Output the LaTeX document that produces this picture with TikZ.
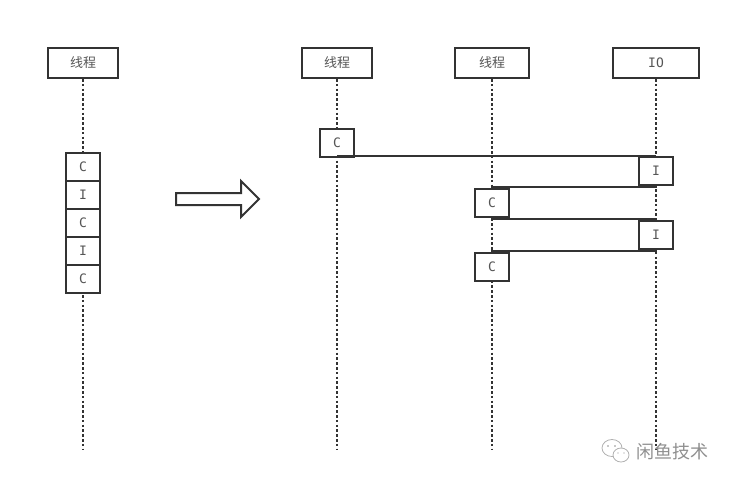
\documentclass[tikz,border=0pt]{standalone}
\usepackage{fontspec}
\setmainfont{Noto Sans CJK SC}
\newfontfamily\latinmono{DejaVu Sans Mono}
\usetikzlibrary{backgrounds}
\definecolor{ink}{HTML}{333333}
\definecolor{txt}{HTML}{555555}
\definecolor{wm}{HTML}{8F8F8F}
\tikzset{
  x=1pt,y=-1pt,
  box/.style={draw=ink,line width=2pt,fill=white,minimum height=28pt,inner sep=0pt,text=txt,font=\fontsize{13}{15}\selectfont},
  cell/.style={box,minimum width=34pt,font=\latinmono\fontsize{13}{15}\selectfont},
  life/.style={draw=ink,line width=2.5pt,dash pattern=on 2.5pt off 2.3pt},
  msg/.style={draw=ink,line width=2pt},
}
\begin{document}
\begin{tikzpicture}
\useasboundingbox (0,0) rectangle (731,485);
% headers
\node[box,minimum width=70pt,minimum height=30pt] (h1) at (83,63) {线程};
\node[box,minimum width=70pt,minimum height=30pt] (h2) at (337,63) {线程};
\node[box,minimum width=74pt,minimum height=30pt] (h3) at (492,63) {线程};
\node[box,minimum width=86pt,minimum height=30pt,font=\latinmono\fontsize{13}{15}\selectfont] (h4) at (656,63) {IO};
% left stack
\node[cell] (s1) at (83,167) {C};
\node[cell] (s2) at (83,195) {I};
\node[cell] (s3) at (83,223) {C};
\node[cell] (s4) at (83,251) {I};
\node[cell] (s5) at (83,279) {C};
% sequence
\node[cell] (c1) at (337,143) {C};
\node[cell] (i1) at (656,171) {I};
\node[cell] (c2) at (492,203) {C};
\node[cell] (i2) at (656,235) {I};
\node[cell] (c3) at (492,267) {C};
% lifeline ends
\coordinate (e1) at (83,450);
\coordinate (e2) at (337,450);
\coordinate (e3) at (492,450);
\coordinate (e4) at (656,450);
\coordinate (k1) at (337,156);
\coordinate (k2) at (656,156);
\coordinate (m1) at (656,187);
\coordinate (n1) at (492,187);
\coordinate (m2) at (492,219);
\coordinate (n2) at (656,219);
\coordinate (m3) at (656,251);
\coordinate (n3) at (492,251);
\begin{scope}[on background layer]
  \draw[life] (h1.south) -- (e1);
  \draw[life] (h2.south) -- (e2);
  \draw[life] (h3.south) -- (e3);
  \draw[life] (h4.south) -- (e4);
\end{scope}
% messages
\draw[msg] (k1) -- (k2);
\draw[msg] (i1.south) -- (m1) -- (n1) -- (c2.north);
\draw[msg] (c2.south) -- (m2) -- (n2) -- (i2.north);
\draw[msg] (i2.south) -- (m3) -- (n3) -- (c3.north);
% block arrow
\draw[draw=ink,line width=2pt,fill=white,line join=miter]
  (176,193) -- (241,193) -- (241,181) -- (259,199) -- (241,217) -- (241,205) -- (176,205) -- cycle;
% watermark
\begin{scope}[draw=wm!70,line width=.8pt,fill=white]
  \draw (612,448) ellipse [x radius=10pt,y radius=8.5pt];
  \draw[fill=white] (621,455) ellipse [x radius=8pt,y radius=7pt];
  \fill[wm] (608,446) circle (.8pt) (615,446) circle (.8pt) (618,453) circle (.7pt) (624,453) circle (.7pt);
\end{scope}
\node[text=wm,font=\fontsize{18}{20}\selectfont,inner sep=0pt] (wm) at (672,452) {闲鱼技术};
\end{tikzpicture}
\end{document}
